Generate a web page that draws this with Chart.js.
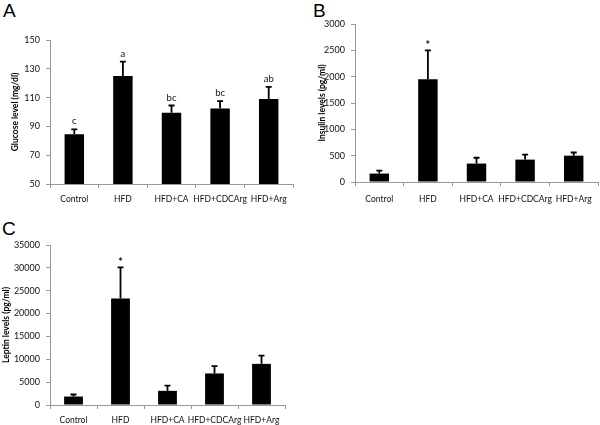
<!DOCTYPE html>
<html>
<head>
<meta charset="utf-8">
<script src="https://cdn.jsdelivr.net/npm/chart.js@4.4.0/dist/chart.umd.min.js"></script>
<style>
  body { margin: 0; background: #fff; width: 600px; height: 425px; position: relative; overflow: hidden; }
  canvas { position: absolute; }
  .letter { position: absolute; font: 19px "Liberation Sans", Arial, sans-serif; line-height: 22px; color: #000; }
</style>
</head>
<body>
<div class="letter" style="left:3px;top:0px">A</div>
<div class="letter" style="left:313px;top:0px">B</div>
<div class="letter" style="left:2px;top:218px">C</div>
<canvas id="chartA" width="300" height="210" style="left:0;top:0"></canvas>
<canvas id="chartB" width="300" height="210" style="left:300px;top:0"></canvas>
<canvas id="chartC" width="300" height="215" style="left:0;top:210px"></canvas>
<script>
// grupos
const categories = ['Control', 'HFD', 'HFD+CA', 'HFD+CDCArg', 'HFD+Arg'];

// A - glucosa
const glucose = [84.5, 125, 99.5, 102.5, 109];
const glucoseErr = [3.5, 10, 5, 5, 8.5];
const glucoseNotes = ['c', 'a', 'bc', 'bc', 'ab'];
const glucoseTicks = [50, 70, 90, 110, 130, 150];

// B - insulina
const insulin = [160, 1950, 350, 425, 500];
const insulinErr = [55, 550, 110, 95, 60];
const insulinNotes = ['', '*', '', '', ''];
const insulinTicks = [0, 500, 1000, 1500, 2000, 2500, 3000];

// C - leptina
const leptin = [1850, 23300, 3100, 6900, 9000];
const leptinErr = [450, 6800, 1150, 1600, 1800];
const leptinNotes = ['', '*', '', '', ''];
const leptinTicks = [0, 5000, 10000, 15000, 20000, 25000, 30000, 35000];

Chart.defaults.font.family = 'Lato, "DejaVu Sans", sans-serif';
Chart.defaults.color = '#111';

// barras de error (solo hacia arriba) y letras encima
const errorBars = {
  id: 'errorBars',
  afterDatasetsDraw(chart, args, opts) {
    const ctx = chart.ctx;
    const x = chart.scales.x;
    const y = chart.scales.y;
    const data = chart.data.datasets[0].data;
    ctx.save();
    ctx.strokeStyle = '#000';
    ctx.lineWidth = 1.8;
    ctx.fillStyle = '#111';
    ctx.textAlign = 'center';
    ctx.textBaseline = 'middle';
    data.forEach((v, i) => {
      const cx = x.getPixelForValue(i);
      const base = y.getPixelForValue(v);
      const top = y.getPixelForValue(v + opts.errors[i]);
      ctx.beginPath();
      ctx.moveTo(cx, base);
      ctx.lineTo(cx, top);
      ctx.moveTo(cx - 3, top);
      ctx.lineTo(cx + 3, top);
      ctx.stroke();
      const note = opts.notes[i];
      if (note) {
        ctx.font = note === '*' ? 'bold 11px Lato, sans-serif' : '9.5px Lato, sans-serif';
        ctx.fillText(note, cx, top - (note === '*' ? 5 : 8));
      }
    });
    ctx.restore();
  }
};

function makeChart(id, values, errors, notes, yTicks, yTitle, box) {
  const ctx = document.getElementById(id).getContext('2d');
  return new Chart(ctx, {
    type: 'bar',
    data: {
      labels: categories,
      datasets: [{
        data: values,
        backgroundColor: '#000',
        borderWidth: 0,
        barPercentage: 0.4,
        categoryPercentage: 1.0,
      }]
    },
    options: {
      responsive: false,
      animation: false,
      layout: { padding: { top: box.top, right: box.right, left: 0, bottom: 0 } },
      plugins: {
        legend: { display: false },
        tooltip: { enabled: false },
        errorBars: { errors: errors, notes: notes },
      },
      scales: {
        x: {
          afterFit: (s) => { s.height = box.xHeight; },
          border: { color: '#999', width: 1 },
          grid: { drawOnChartArea: false, drawTicks: true, tickLength: 4, color: '#999', offset: true },
          ticks: { font: { size: 8.5 }, padding: box.xPad, autoSkip: false, maxRotation: 0 },
        },
        y: {
          min: yTicks[0],
          max: yTicks[yTicks.length - 1],
          afterFit: (s) => { s.width = box.yWidth; },
          afterBuildTicks: (s) => { s.ticks = yTicks.map(v => ({ value: v })); },
          border: { color: '#999', width: 1 },
          grid: { drawOnChartArea: false, drawTicks: true, tickLength: 4, color: '#999' },
          ticks: { font: { size: 9 }, padding: 6, callback: (v) => String(v) },
          title: {
            display: true,
            text: yTitle,
            font: { size: 8.5, weight: 'bold' },
            color: '#000',
            padding: { top: box.titlePad, bottom: 0 },
          },
        }
      }
    },
    plugins: [errorBars]
  });
}

makeChart('chartA', glucose, glucoseErr, glucoseNotes, glucoseTicks, 'Glucose level (mg/dl)',
  { top: 40, right: 7, yWidth: 50, xHeight: 26, xPad: 6, titlePad: 10 });
makeChart('chartB', insulin, insulinErr, insulinNotes, insulinTicks, 'Insulin levels (pg/ml)',
  { top: 24, right: 2, yWidth: 55, xHeight: 28, xPad: 8, titlePad: 17 });
makeChart('chartC', leptin, leptinErr, leptinNotes, leptinTicks, 'Leptin levels (pg/ml)',
  { top: 35, right: 15, yWidth: 50, xHeight: 20, xPad: 6, titlePad: 1 });
</script>
</body>
</html>
